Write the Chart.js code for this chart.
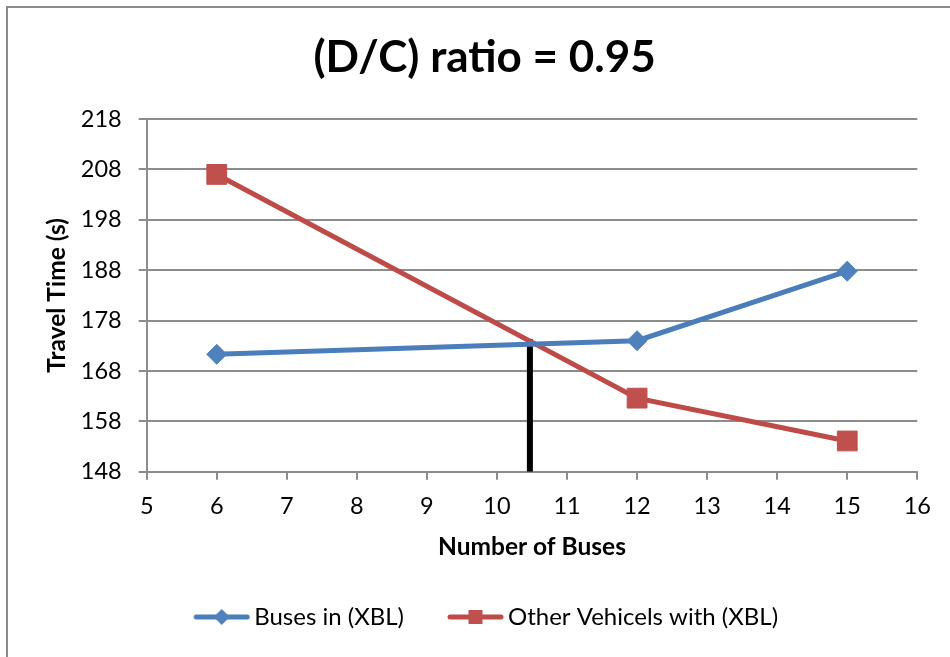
<!DOCTYPE html>
<html>
<head>
<meta charset="utf-8">
<script src="https://cdn.jsdelivr.net/npm/chart.js@4/dist/chart.umd.min.js"></script>
<style>
  html, body { margin: 0; padding: 0; background: #fff; overflow: hidden; }
  #wrap { position: relative; width: 950px; height: 657px; }
  #frame { position: absolute; left: 6px; top: 6px; width: 980px; height: 700px;
           border: 2px solid #8a8a8a; box-sizing: border-box; pointer-events: none; }
  canvas { position: absolute; left: 0; top: 0; }
</style>
</head>
<body>
<div id="wrap">
  <canvas id="chart" width="950" height="657"></canvas>
  <div id="frame"></div>
</div>
<script>
// Number of buses on the x axis
const busCounts = [6, 12, 15];
// Travel time (s) for each series
const busTravelTime = [171.3, 174.0, 187.8];
const otherTravelTime = [207.0, 162.6, 154.1];
// Vertical marker at the crossing point of the two curves
const crossingBuses = [10.47, 10.47];
const crossingTime = [174.3, 148];

const seriesNames = ['Buses in (XBL)', 'Other Vehicels with (XBL)'];
const chartTitle = '(D/C) ratio = 0.95';
const xAxisTitle = 'Number of Buses';
const yAxisTitle = 'Travel Time (s)';

const BLUE_LINE = '#4a7ebb', BLUE_FILL = '#4f81bd';
const RED_LINE = '#be4b48', RED_FILL = '#c0504d';
const GRID = '#8c8c8c';
const FONT = 'Lato';

const toPoints = (xs, ys) => xs.map((x, i) => ({ x, y: ys[i] }));

// Legend swatch: short line with the series marker in the middle.
// The canvas carries 10px of empty space on its left side.
function swatch(lineColor, fillColor, shape) {
  const c = document.createElement('canvas');
  c.width = 67; c.height = 22;
  const g = c.getContext('2d');
  const x0 = 10, mid = x0 + 28.5;
  g.strokeStyle = lineColor; g.lineWidth = 5; g.lineCap = 'round';
  g.beginPath(); g.moveTo(x0 + 3, 11); g.lineTo(x0 + 54, 11); g.stroke();
  g.fillStyle = fillColor;
  g.beginPath();
  if (shape === 'diamond') {
    g.moveTo(mid, 3); g.lineTo(mid + 8, 11); g.lineTo(mid, 19); g.lineTo(mid - 8, 11);
  } else {
    g.rect(mid - 7, 4, 14, 14);
  }
  g.closePath(); g.fill();
  return c;
}
const swatches = [swatch(BLUE_LINE, BLUE_FILL, 'diamond'), swatch(RED_LINE, RED_FILL, 'square')];

const PLOT_LEFT = 146.7, PAD_LEFT = 52;
const AXIS_TITLE_SIZE = 24.5;

new Chart(document.getElementById('chart'), {
  type: 'scatter',
  data: {
    datasets: [
      {
        label: seriesNames[0],
        data: toPoints(busCounts, busTravelTime),
        showLine: true,
        borderColor: BLUE_LINE, borderWidth: 5,
        pointStyle: 'rectRot', pointRadius: 10, pointHoverRadius: 10,
        pointBackgroundColor: BLUE_FILL, pointBorderColor: BLUE_FILL, pointBorderWidth: 1
      },
      {
        label: seriesNames[1],
        data: toPoints(busCounts, otherTravelTime),
        showLine: true,
        borderColor: RED_LINE, borderWidth: 5,
        pointStyle: 'rect', pointRadius: 14, pointHoverRadius: 14,
        pointBackgroundColor: RED_FILL, pointBorderColor: RED_FILL, pointBorderWidth: 1
      },
      {
        label: 'crossing',
        data: toPoints(crossingBuses, crossingTime),
        showLine: true,
        borderColor: '#000000', borderWidth: 6, borderCapStyle: 'butt',
        pointRadius: 0, pointHoverRadius: 0
      }
    ]
  },
  options: {
    responsive: false,
    animation: false,
    events: [],
    layout: { padding: { left: PAD_LEFT, right: 32.7, top: 0, bottom: 18 } },
    plugins: {
      tooltip: { enabled: false },
      title: {
        display: true, text: chartTitle, color: '#000',
        font: { family: FONT, size: 44, weight: 'bold' },
        padding: { top: 31.6, bottom: 34.6 }
      },
      legend: {
        position: 'bottom',
        labels: {
          color: '#000',
          font: { family: FONT, size: 24 },
          usePointStyle: true,
          pointStyleWidth: 51,
          padding: 41,
          generateLabels: (chart) => chart.data.datasets.slice(0, 2).map((ds, i) => ({
            text: ds.label, datasetIndex: i, pointStyle: swatches[i],
            fillStyle: 'transparent', strokeStyle: 'transparent', lineWidth: 0, fontColor: '#000'
          }))
        }
      }
    },
    scales: {
      x: {
        type: 'linear', min: 5, max: 16,
        ticks: { stepSize: 1, color: '#000', font: { family: FONT, size: 23.5 }, padding: 13 },
        grid: { drawOnChartArea: false, drawTicks: true, tickLength: 8, color: GRID, lineWidth: 2 },
        border: { color: GRID, width: 2 },
        title: { display: true, text: xAxisTitle, color: '#000',
                 font: { family: FONT, size: AXIS_TITLE_SIZE, weight: 'bold' },
                 padding: { top: 0, bottom: 2.3 } },
        afterFit: (scale) => { scale.height = 92.3; }
      },
      y: {
        min: 148, max: 218,
        ticks: { stepSize: 10, color: '#000', font: { family: FONT, size: 23.5 }, padding: 17 },
        grid: { color: GRID, lineWidth: 2, drawTicks: true, tickLength: 8 },
        border: { color: GRID, width: 2 },
        title: { display: true, text: yAxisTitle, color: '#000',
                 font: { family: FONT, size: AXIS_TITLE_SIZE, weight: 'bold' },
                 padding: { top: 57 - PAD_LEFT - AXIS_TITLE_SIZE * 0.6, bottom: 0 } },
        afterFit: (scale) => { scale.width = PLOT_LEFT - PAD_LEFT; }
      }
    }
  }
});
</script>
</body>
</html>
